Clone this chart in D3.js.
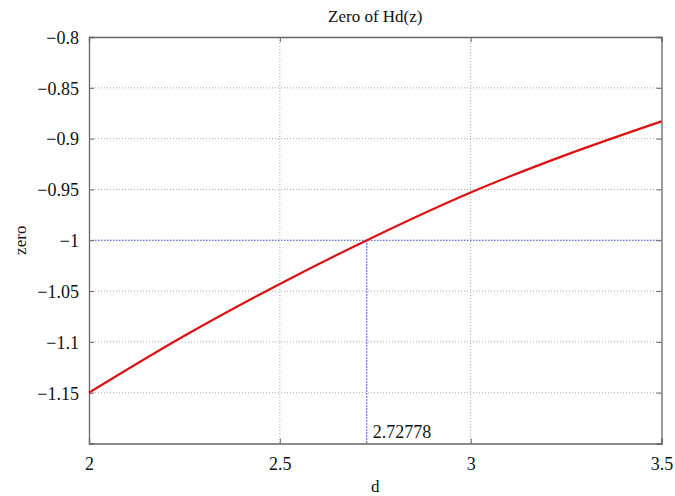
<!DOCTYPE html>
<html><head><meta charset="utf-8">
<script src="https://cdn.jsdelivr.net/npm/d3@7"></script>
<style>
svg text{font-family:"Liberation Serif" !important;}
</style>
</head>
<body style="margin:0;background:#fff"><svg id="c" width="675" height="496" font-family="Liberation Serif"></svg>
<script>
const dValues = [2, 2.25, 2.5, 2.75, 3, 3.25, 3.5];
const zeroValues = [-1.15, -1.094, -1.043, -0.996, -0.953, -0.916, -0.883];
const xTicks = [2, 2.5, 3, 3.5];
const yTicks = [-0.8, -0.85, -0.9, -0.95, -1, -1.05, -1.1, -1.15];
const markD = 2.72778;
const markZero = -1;

const FONT = '"Liberation Serif"';
const svg = d3.select("#c");
const L = 89, R = 661.5, T = 37, B = 443.5;
const x = d3.scaleLinear().domain([2, 3.5]).range([L, R]);
const y = d3.scaleLinear().domain([-1.2, -0.8]).range([B, T]);
const fmt = v => (v < 0 ? "\u2212" : "") + String(Math.abs(v));

// grid
const g = svg.append("g");
g.selectAll(".gx").data(xTicks.filter(v => v > 2 && v < 3.5)).join("line")
  .attr("x1", d => x(d)).attr("x2", d => x(d)).attr("y1", T).attr("y2", B)
  .attr("stroke", "#aaa").attr("stroke-width", 1).attr("stroke-dasharray", "1,2");
g.selectAll(".gy").data(yTicks.filter(v => v < -0.8 && v !== markZero)).join("line")
  .attr("x1", L).attr("x2", R).attr("y1", d => y(d)).attr("y2", d => y(d))
  .attr("stroke", "#aaa").attr("stroke-width", 1).attr("stroke-dasharray", "1,2");

// blue marker lines
svg.append("line").attr("x1", L).attr("x2", R).attr("y1", y(markZero)).attr("y2", y(markZero))
  .attr("stroke", "#3344dd").attr("stroke-width", 1.2).attr("stroke-dasharray", "1.5,1.5");
svg.append("line").attr("x1", x(markD)).attr("x2", x(markD)).attr("y1", y(markZero)).attr("y2", B)
  .attr("stroke", "#3344dd").attr("stroke-width", 1.2).attr("stroke-dasharray", "1.5,1.5");

// axes (MATLAB-style inward ticks)
const ax = svg.append("g").attr("transform", `translate(0,${B})`)
  .call(d3.axisBottom(x).tickValues(xTicks).tickSize(-5).tickPadding(14).tickFormat(d => String(d)));
const ay = svg.append("g").attr("transform", `translate(${L},0)`)
  .call(d3.axisLeft(y).tickValues(yTicks).tickSize(-5).tickPadding(10).tickFormat(fmt));
const axT = svg.append("g").attr("transform", `translate(0,${T})`)
  .call(d3.axisTop(x).tickValues(xTicks).tickSize(-5).tickFormat(""));
const ayR = svg.append("g").attr("transform", `translate(${R},0)`)
  .call(d3.axisRight(y).tickValues(yTicks).tickSize(-5).tickFormat(""));
[ax, ay, axT, ayR].forEach(a => {
  a.attr("font-family", "Liberation Serif");
  a.select(".domain").attr("stroke", "#666").attr("stroke-width", 1.3);
  a.selectAll(".tick line").attr("stroke", "#666");
  a.selectAll("text").style("font-size", "18px").attr("fill", "#111")
   .style("font-family", FONT, "important");
});
ay.selectAll("text").attr("dy", "0.35em");

// curve
const line = d3.line().x((d, i) => x(dValues[i])).y(d => y(d)).curve(d3.curveMonotoneX);
svg.append("path").datum(zeroValues).attr("d", line)
  .attr("fill", "none").attr("stroke", "#dd1111").attr("stroke-width", 2.2);

// annotation
svg.append("text").attr("x", x(markD) + 6).attr("y", B - 6)
  .style("font-family", FONT, "important").style("font-size", "18px").attr("fill", "#111").text(String(markD));

// labels
svg.append("text").attr("x", (L + R) / 2).attr("y", 22).attr("text-anchor", "middle")
  .style("font-family", FONT, "important").style("font-size", "17px").attr("fill", "#111").text("Zero of Hd(z)");
svg.append("text").attr("x", (L + R) / 2).attr("y", 492).attr("text-anchor", "middle")
  .style("font-family", FONT, "important").style("font-size", "17px").attr("fill", "#111").text("d");
svg.append("text").attr("transform", `translate(26,${(T + B) / 2}) rotate(-90)`)
  .attr("text-anchor", "middle").style("font-family", FONT, "important").style("font-size", "17px")
  .attr("fill", "#111").text("zero");
</script></body></html>
